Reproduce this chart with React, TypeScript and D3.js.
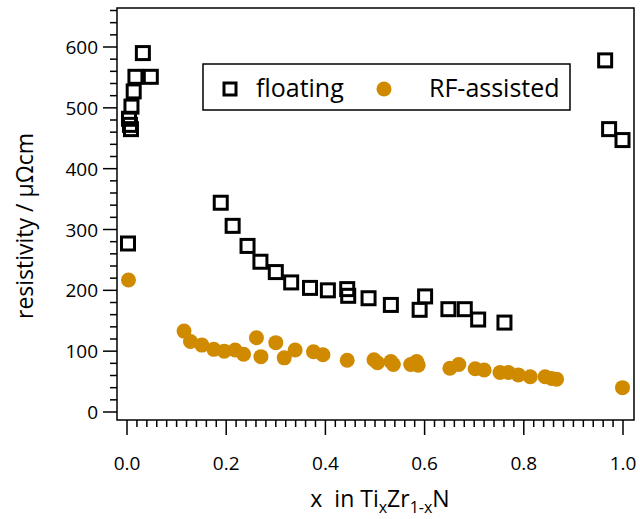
import React, { useEffect, useRef } from 'react';
import * as d3 from 'd3';

// floating (square markers)
const floatX = [0.002, 0.004, 0.006, 0.008, 0.009, 0.0135, 0.017, 0.032, 0.048,
  0.189, 0.213, 0.243, 0.269, 0.300, 0.331, 0.369, 0.405, 0.444, 0.446, 0.487,
  0.532, 0.590, 0.601, 0.648, 0.681, 0.708, 0.761, 0.964, 0.972, 0.999];
const floatY = [277, 482, 472, 465, 502, 527, 551, 590, 551,
  344, 306, 273, 247, 230, 213, 204, 200, 202, 191, 187,
  176, 168, 190, 169, 169, 152, 147, 578, 465, 447];

// RF-assisted (filled circles)
const rfX = [0.003, 0.115, 0.128, 0.151, 0.175, 0.196, 0.218, 0.235, 0.261, 0.270,
  0.300, 0.317, 0.339, 0.376, 0.395, 0.444, 0.498, 0.505, 0.532, 0.537,
  0.572, 0.584, 0.587, 0.651, 0.669, 0.702, 0.720, 0.752, 0.769, 0.789,
  0.813, 0.843, 0.856, 0.866, 0.999];
const rfY = [217, 133, 116, 110, 103, 100, 102, 95, 122, 91,
  114, 89, 102, 99, 94, 85, 86, 81, 83, 78,
  78, 83, 77, 72, 78, 71, 69, 65, 65, 61,
  58, 58, 55, 54, 40];

const xTicks = [0, 0.2, 0.4, 0.6, 0.8, 1.0];
const yTicks = [0, 100, 200, 300, 400, 500, 600];

const orange = '#d08a00';
const font = '"Open Sans", "Noto Sans", sans-serif';

export default function App() {
  const ref = useRef<SVGSVGElement>(null);

  useEffect(() => {
    const svg = d3.select(ref.current);
    svg.selectAll('*').remove();

    const left = 117, right = 634, top = 8, bottom = 420;
    const x = d3.scaleLinear().domain([0, 1]).range([127, 623]);
    const y = d3.scaleLinear().domain([0, 600]).range([412, 47]);

    // frame
    svg.append('rect')
      .attr('x', left).attr('y', top)
      .attr('width', right - left).attr('height', bottom - top)
      .attr('fill', 'none').attr('stroke', '#000').attr('stroke-width', 1.5);

    // x axis
    const xMinor = d3.range(0, 51).map(i => i * 0.02);
    svg.append('g').selectAll('line').data(xMinor).join('line')
      .attr('x1', d => x(d)).attr('x2', d => x(d))
      .attr('y1', bottom).attr('y2', d => bottom + (xTicks.some(t => Math.abs(t - d) < 1e-6) ? 15 : 7))
      .attr('stroke', '#000').attr('stroke-width', 1.5);
    svg.append('g').selectAll('text').data(xTicks).join('text')
      .attr('x', d => x(d)).attr('y', 470)
      .attr('text-anchor', 'middle')
      .attr('font-family', font).attr('font-size', 19)
      .text(d => d3.format('.1f')(d));

    // y axis
    const yMinor = d3.range(-1, 34).map(i => i * 20).filter(v => y(v) >= top && y(v) <= bottom);
    svg.append('g').selectAll('line').data(yMinor).join('line')
      .attr('y1', d => y(d)).attr('y2', d => y(d))
      .attr('x1', left).attr('x2', d => left - (d % 100 === 0 ? 14 : 7))
      .attr('stroke', '#000').attr('stroke-width', 1.5);
    svg.append('g').selectAll('text').data(yTicks).join('text')
      .attr('x', 98).attr('y', d => y(d) + 7)
      .attr('text-anchor', 'end')
      .attr('font-family', font).attr('font-size', 19)
      .text(d => d);

    // axis titles
    const xt = svg.append('text')
      .attr('x', 380).attr('y', 507)
      .attr('text-anchor', 'middle')
      .attr('font-family', font).attr('font-size', 23);
    xt.append('tspan').text('x\u00a0\u00a0in Ti');
    xt.append('tspan').attr('font-size', 16).attr('dy', 6).text('x');
    xt.append('tspan').attr('dy', -6).text('Zr');
    xt.append('tspan').attr('font-size', 16).attr('dy', 6).text('1-x');
    xt.append('tspan').attr('dy', -6).text('N');

    svg.append('text')
      .attr('transform', 'translate(33,226) rotate(-90)')
      .attr('text-anchor', 'middle')
      .attr('font-family', font).attr('font-size', 23)
      .text('resistivity / µΩcm');

    // data
    const floating = d3.zip(floatX, floatY);
    svg.append('g').selectAll('rect').data(floating).join('rect')
      .attr('x', d => x(d[0]) - 6.5).attr('y', d => y(d[1]) - 6.5)
      .attr('width', 13).attr('height', 13)
      .attr('fill', 'none').attr('stroke', '#000').attr('stroke-width', 3);

    const rf = d3.zip(rfX, rfY);
    svg.append('g').selectAll('circle').data(rf).join('circle')
      .attr('cx', d => x(d[0])).attr('cy', d => y(d[1]))
      .attr('r', 7.5).attr('fill', orange);

    // legend
    const lg = svg.append('g');
    lg.append('rect')
      .attr('x', 203).attr('y', 64).attr('width', 367).attr('height', 46)
      .attr('fill', '#fff').attr('stroke', '#000').attr('stroke-width', 1.5);
    lg.append('rect')
      .attr('x', 224).attr('y', 83).attr('width', 12).attr('height', 12)
      .attr('fill', 'none').attr('stroke', '#000').attr('stroke-width', 3);
    lg.append('text')
      .attr('x', 256).attr('y', 97)
      .attr('font-family', font).attr('font-size', 25)
      .text('floating');
    lg.append('circle')
      .attr('cx', 384).attr('cy', 89).attr('r', 7.5).attr('fill', orange);
    lg.append('text')
      .attr('x', 429).attr('y', 97)
      .attr('font-family', font).attr('font-size', 25)
      .text('RF-assisted');
  }, []);

  return (
    <svg ref={ref} width={640} height={519}
      style={{ position: 'absolute', left: 0, top: 0, background: '#fff' }} />
  );
}
